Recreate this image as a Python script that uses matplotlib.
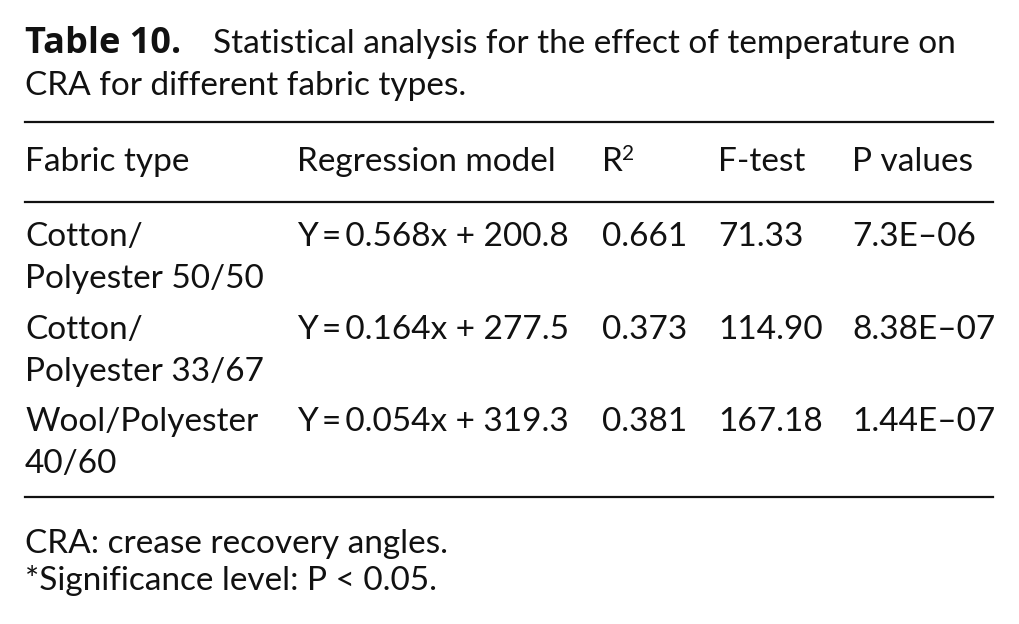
import matplotlib.pyplot as plt
from matplotlib.lines import Line2D

plt.rcParams['font.family'] = ['Lato', 'DejaVu Sans']

title_bold = 'Table 10.'
title_rest = 'Statistical analysis for the effect of temperature on'
title_line2 = 'CRA for different fabric types.'
headers = ['Fabric type', 'Regression model', 'R', 'F-test', 'P values']
fabric = [['Cotton/', 'Polyester 50/50'],
          ['Cotton/', 'Polyester 33/67'],
          ['Wool/Polyester', '40/60']]
models = ['Y\u2009=\u20090.568x + 200.8', 'Y\u2009=\u20090.164x + 277.5',
          'Y\u2009=\u20090.054x + 319.3']
r2 = ['0.661', '0.373', '0.381']
ftest = ['71.33', '114.90', '167.18']
pvals = ['7.3E–06', '8.38E–07', '1.44E–07']
notes = ['CRA: crease recovery angles.', '*Significance level: P < 0.05.']

W, H = 1020, 624
fig = plt.figure(figsize=(W / 100, H / 100), dpi=100)
fs = 24


def put(x, y, s, size=fs, **kw):
    # pixel coords from top-left, baseline alignment
    fig.text(x / W, 1 - y / H, s, va='baseline', ha='left', fontsize=size,
             color='#111111', **kw)


def rule(y):
    fig.add_artist(Line2D([25 / W, 993 / W], [1 - y / H, 1 - y / H],
                          color='#111111', lw=1.6))


put(25, 53, title_bold, size=26, fontweight='bold',
    family=['Open Sans', 'DejaVu Sans'])
put(213, 53, title_rest)
put(25, 95, title_line2)

rule(122)
cols = [25, 297, 602, 718, 852]
for x, h in zip(cols, headers):
    put(x, 171, h)
put(622, 160, '2', size=15)
rule(202)

row_y = [246, 339, 431]
for i, y in enumerate(row_y):
    put(cols[0], y, fabric[i][0])
    put(cols[0], y + 42, fabric[i][1])
    put(cols[1], y, models[i])
    put(cols[2], y, r2[i])
    put(cols[3], y, ftest[i])
    put(cols[4], y, pvals[i])
rule(497)

put(25, 553, notes[0])
put(25, 590, notes[1])

fig.savefig('out.png', dpi=100, facecolor='white')
